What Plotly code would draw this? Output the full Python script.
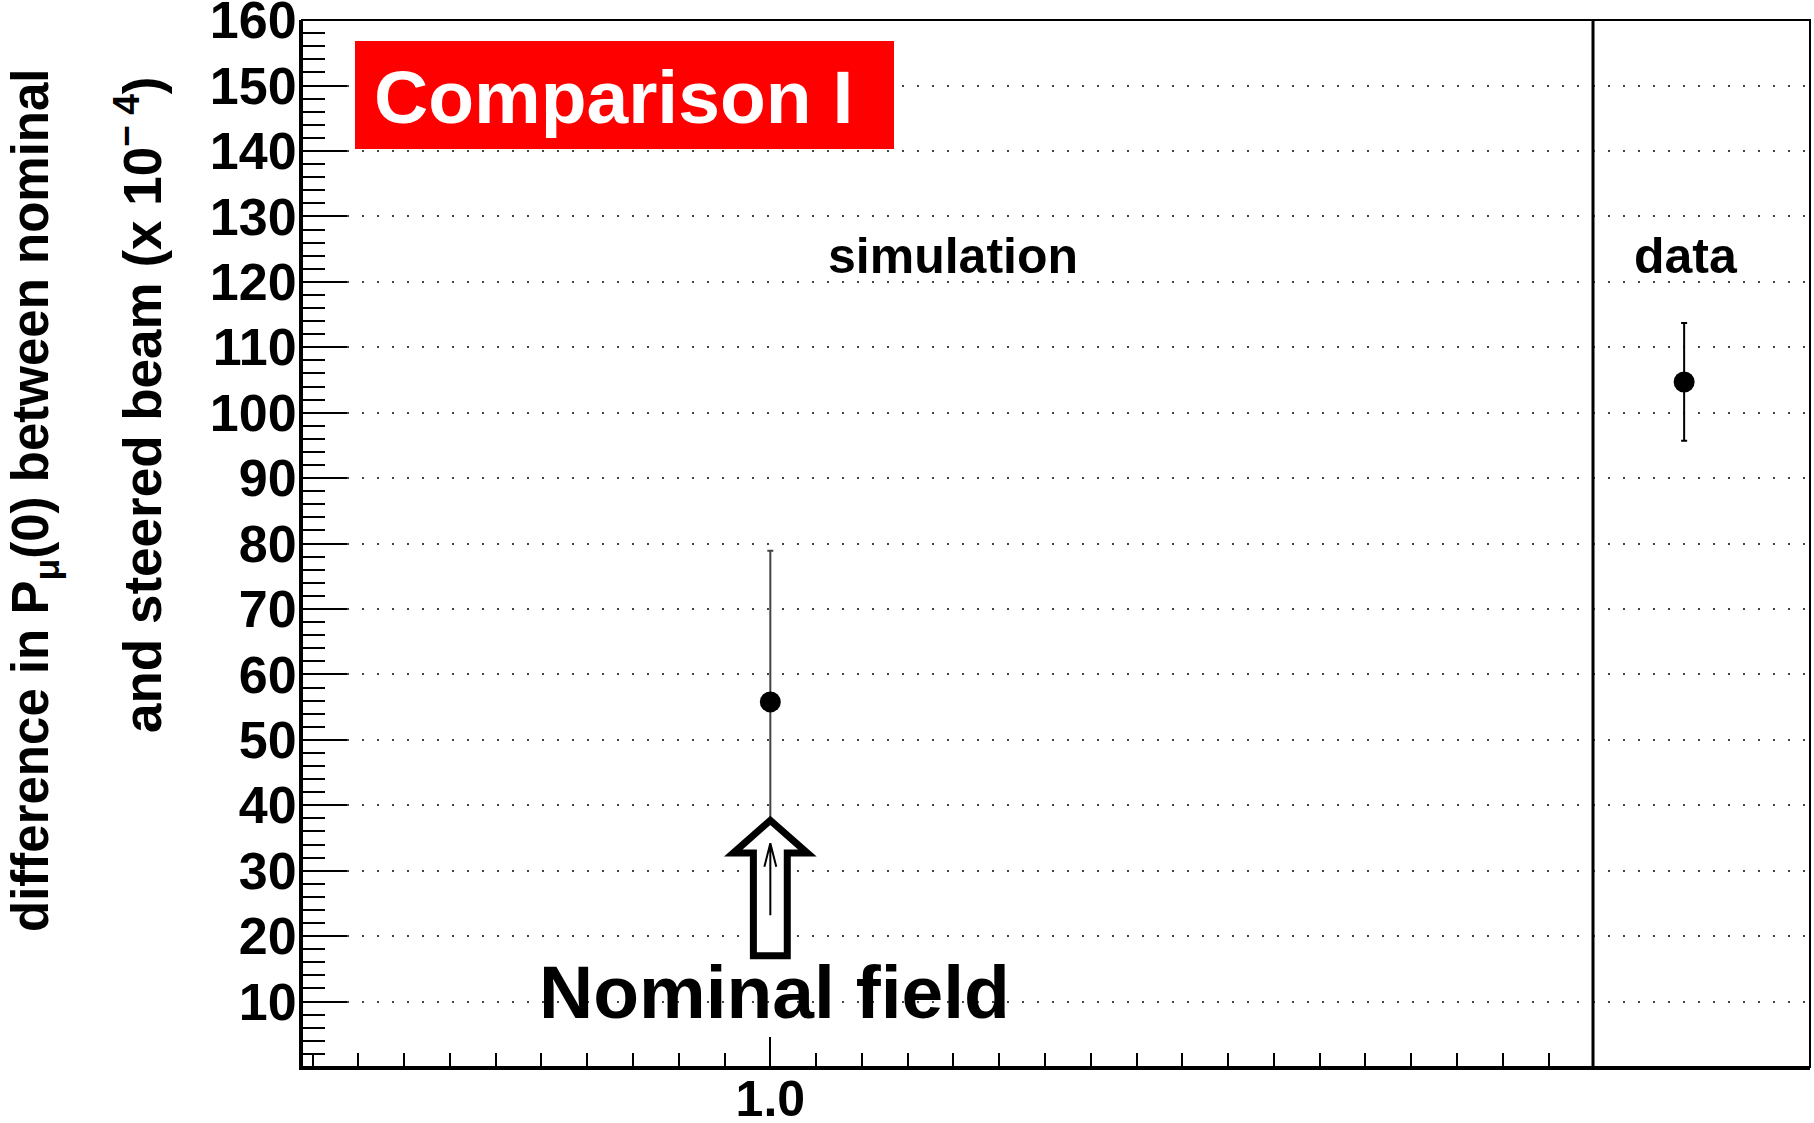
import plotly.graph_objects as go

# ---------------- data ----------------
SIM_LABEL = "simulation"
SIM_X = [1.0]          # nominal field
SIM_Y = [55.8]
SIM_ERR = [23.1]

DATA_LABEL = "data"
DATA_X = [0.42]
DATA_Y = [104.7]
DATA_ERR = [9.0]

Y_TICKS = list(range(10, 161, 10))
Y_MINOR = [v for v in range(0, 161, 2) if v % 10 != 0]
X_TICK_VALS = [0.8, 0.9, 1.0, 1.1, 1.2, 1.3]
X_TICK_TEXT = ["", "", "1.0", "", "", ""]
X_MINOR = [round(0.80 + 0.02 * i, 2) for i in range(0, 28)]
X_RANGE = [0.7954, 1.3594]
Y_RANGE = [0, 160.02]

# ---------------- layout geometry ----------------
W, H = 1814, 1123
ML, MR, MT, MB = 302, 4, 20, 56
PW = W - ML - MR
PH = H - MT - MB
SPLIT = (1593 - ML) / PW


def px(x):
    return (x - ML) / PW


def py(y):
    return (H - MB - y) / PH


FONT = "Liberation Sans, Arial, Helvetica, sans-serif"

fig = go.Figure()

fig.add_trace(go.Scatter(
    x=SIM_X, y=SIM_Y, mode="markers", xaxis="x", yaxis="y",
    marker=dict(color="black", size=21),
    error_y=dict(type="data", array=SIM_ERR, color="#444444", thickness=2, width=3),
    showlegend=False, hoverinfo="x+y",
))
fig.add_trace(go.Scatter(
    x=DATA_X, y=DATA_Y, mode="markers", xaxis="x2", yaxis="y",
    marker=dict(color="black", size=21),
    error_y=dict(type="data", array=DATA_ERR, color="black", thickness=2, width=3),
    showlegend=False, hoverinfo="y",
))

grid = dict(showgrid=True, gridcolor="#444444", gridwidth=2, griddash="2px,13px")

fig.update_layout(
    width=W, height=H,
    margin=dict(l=ML, r=MR, t=MT, b=MB, autoexpand=False),
    paper_bgcolor="white", plot_bgcolor="white",
    font=dict(family=FONT, color="black"),
    xaxis=dict(
        domain=[0, SPLIT], range=X_RANGE, anchor="y", automargin=False,
        tickmode="array", tickvals=X_TICK_VALS, ticktext=X_TICK_TEXT,
        ticks="inside", ticklen=30, tickwidth=2, tickcolor="black",
        minor=dict(tickmode="array", tickvals=X_MINOR, ticks="inside",
                   ticklen=14, tickwidth=2, tickcolor="black", showgrid=False),
        showline=True, linewidth=3, linecolor="black",
        showgrid=False, zeroline=False,
        tickfont=dict(family=FONT, size=50, weight="bold", color="black"),
        ticklabelstandoff=-14, ticklabeloverflow="allow",
    ),
    xaxis2=dict(
        domain=[SPLIT, 1], range=[0, 1], anchor="y", automargin=False,
        showticklabels=False, ticks="",
        showline=True, linewidth=3, linecolor="black",
        showgrid=False, zeroline=False,
    ),
    yaxis=dict(
        range=Y_RANGE, anchor="x", automargin=False,
        tickmode="array", tickvals=Y_TICKS,
        ticks="inside", ticklen=45, tickwidth=2, tickcolor="black",
        minor=dict(tickmode="array", tickvals=Y_MINOR, ticks="inside",
                   ticklen=23, tickwidth=2, tickcolor="black", showgrid=False),
        showline=True, linewidth=3, linecolor="black",
        zeroline=False, ticklabeloverflow="allow", ticklabelstandoff=-8,
        tickfont=dict(family=FONT, size=52, weight="bold", color="black"),
        **grid,
    ),
)

shapes = []
# white background box behind "Nominal field"
shapes.append(dict(type="rect", xref="paper", yref="paper",
                   x0=px(510), x1=px(1042), y0=py(1030), y1=py(915),
                   fillcolor="white", line=dict(width=0), layer="between"))
# frame
shapes.append(dict(type="rect", xref="paper", yref="paper", x0=0, x1=1, y0=0, y1=1,
                   line=dict(color="black", width=2), layer="above"))
# divider simulation | data
shapes.append(dict(type="line", xref="paper", yref="paper", x0=SPLIT, x1=SPLIT, y0=0, y1=1,
                   line=dict(color="black", width=3), layer="above"))
# red title box
shapes.append(dict(type="rect", xref="paper", yref="paper",
                   x0=px(355), x1=px(894), y0=py(149), y1=py(41),
                   fillcolor="#FF0000", line=dict(width=0), layer="above"))

# hollow arrow pointing to the nominal field (data coords)
xc = SIM_X[0]
sw, hw = 0.0074, 0.0162          # shaft / head half widths
y_bot, y_base, y_tip = 17.0, 32.7, 37.7
arrow = (f"M {xc - sw},{y_bot} L {xc + sw},{y_bot} L {xc + sw},{y_base} "
         f"L {xc + hw},{y_base} L {xc},{y_tip} L {xc - hw},{y_base} "
         f"L {xc - sw},{y_base} Z")
shapes.append(dict(type="path", xref="x", yref="y", path=arrow,
                   fillcolor="white", line=dict(color="black", width=7), layer="above"))
# thin arrow inside
ta_bot, ta_base, ta_tip, ta_w = 23.2, 30.6, 34.2, 0.0026
thin = (f"M {xc},{ta_bot} L {xc},{ta_tip} M {xc - ta_w},{ta_base} "
        f"L {xc},{ta_tip} L {xc + ta_w},{ta_base}")
shapes.append(dict(type="path", xref="x", yref="y", path=thin,
                   line=dict(color="black", width=2), layer="above"))
fig.update_layout(shapes=shapes)

ann = []
ann.append(dict(text="Comparison I", xref="paper", yref="paper", x=px(613), y=py(97),
                xanchor="center", yanchor="middle", showarrow=False,
                font=dict(family=FONT, size=75, weight="bold", color="white")))
ann.append(dict(text=SIM_LABEL, xref="paper", yref="paper", x=px(953), y=py(256),
                xanchor="center", yanchor="middle", showarrow=False,
                font=dict(family=FONT, size=50, weight="bold", color="black")))
ann.append(dict(text=DATA_LABEL, xref="paper", yref="paper", x=px(1686), y=py(256),
                xanchor="center", yanchor="middle", showarrow=False,
                font=dict(family=FONT, size=50, weight="bold", color="black")))
ann.append(dict(text="Nominal field", xref="paper", yref="paper", x=px(774), y=py(992),
                xanchor="center", yanchor="middle", showarrow=False,
                font=dict(family=FONT, size=75, weight="bold", color="black")))
ann.append(dict(text="difference in P<sub>μ</sub>(0) between nominal",
                xref="paper", yref="paper", x=px(35), y=py(500), textangle=-90,
                xanchor="center", yanchor="middle", showarrow=False,
                font=dict(family=FONT, size=51, weight="bold", color="black")))
ann.append(dict(text="and steered beam (x 10<sup>− 4</sup>)",
                xref="paper", yref="paper", x=px(139), y=py(405), textangle=-90,
                xanchor="center", yanchor="middle", showarrow=False,
                font=dict(family=FONT, size=53, weight="bold", color="black")))
fig.update_layout(annotations=ann)

fig.write_html(
    "out.html",
    config={"displayModeBar": False},
    post_script="document.body.style.margin='0';document.body.style.padding='0';",
)
